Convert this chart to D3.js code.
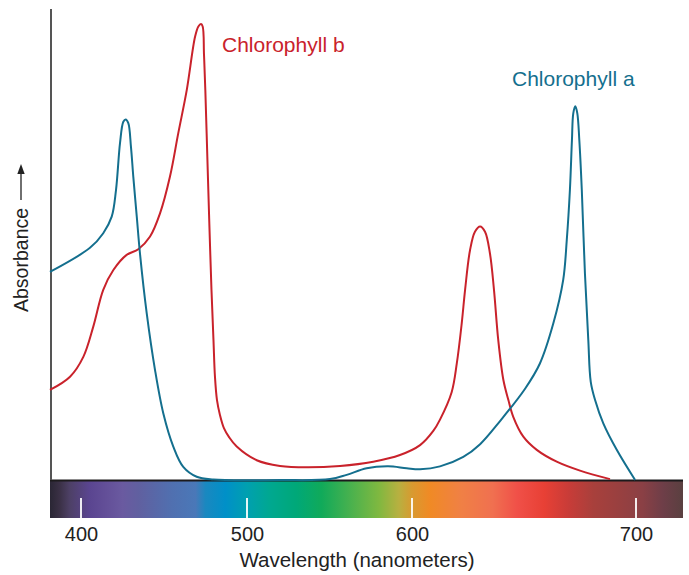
<!DOCTYPE html>
<html>
<head>
<meta charset="utf-8">
<script src="https://cdn.jsdelivr.net/npm/d3@7"></script>
<style>
  body { margin: 0; background: #fff; }
  svg { display: block; font-family: "Liberation Sans", Arial, sans-serif; }
</style>
</head>
<body>
<script>
// ---- data (wavelength in nm, absorbance in relative units 0-100) ----
var tickValues = [400, 500, 600, 700];

var chlA_nm = [381.3, 405.4, 413.4, 418.5, 421.1, 423.5, 425.5, 426.9, 428.5, 430.1, 431.5, 433.6, 435.5,
  439.6, 444.6, 449.6, 455.6, 461.6, 469.7, 479.7, 520, 550.3, 560.4, 572.5, 585.5, 596.8, 603.6, 612.5, 622.9,
  630.4, 639.3, 650.4, 657.1, 663.1, 667.5, 669.1, 670.5, 671.4, 672.0, 672.9, 673.8, 674.7, 675.8, 677.2, 678.7,
  679.8, 681.7, 685.4, 691.4, 699.6];
var chlA_abs = [44.3, 49.4, 52.5, 56.0, 61.7, 71.6, 76.1, 76.6, 75.8, 70.8, 64.5, 56.0, 48.3,
  35.5, 23.5, 14.3, 7.3, 3.0, 0.9, 0.3, 0.2, 0.4, 1.3, 2.7, 3.1, 2.7, 2.5, 3.1, 5.1,
  7.8, 12.7, 19.5, 24.9, 33.4, 42.6, 51.1, 61.7, 72.2, 77.9, 79.4, 77.9, 72.2, 61.7, 44.0, 29.9,
  21.0, 17.2, 12.2, 6.6, 0.2];

var chlB_nm = [381.3, 393.4, 401.4, 407.4, 413.4, 419.5, 427.5, 434.5, 441.6, 447.6, 453.6, 458.6, 463.7, 468.7,
  470.7, 472.3, 473.3, 474.1, 474.9, 476.1, 477.3, 478.6, 479.8, 480.7, 481.9, 483.7, 486.1, 489.2, 493.8,
  505.9, 520, 536.2, 556.4, 576.5, 592.7, 603.6, 609.5, 612.5, 617.7, 620.0, 622.2, 623.7, 625.9, 628.1, 630.4,
  632.6, 634.8, 636.6, 638.5, 640.8, 643.0, 645.2, 649.7, 655.7, 664.6, 675.0, 688.4];
var chlB_abs = [19.3, 22.1, 26.3, 32.7, 40.5, 44.7, 47.9, 49.1, 51.8, 56.7, 64.5, 73.7, 82.8, 94.1,
  96.3, 96.8, 96.3, 90.3, 82.8, 68.7, 54.6, 40.5, 29.9, 22.1, 17.2, 14.0, 11.2, 9.3, 7.3,
  4.4, 3.2, 2.9, 3.2, 4.1, 5.5, 7.6, 10.6, 13.0, 18.8, 24.9, 33.4, 40.5, 48.9, 52.8, 53.9,
  52.8, 48.2, 40.5, 29.9, 21.4, 17.2, 13.6, 9.4, 6.6, 4.1, 2.2, 0.4];

// spectrum colour stops (wavelength, colour)
var spectrumNm = [381.3, 387, 393, 405, 415, 425, 435, 445, 455, 469, 475, 487, 500, 514, 530, 545, 560, 580,
  592, 600, 608, 622, 636, 647, 659, 670, 681, 693, 703, 712, 721];
var spectrumCol = ["#2a2634", "#3a3045", "#4d4065", "#5a4590", "#634f98", "#6a5aa0", "#6060a0", "#5868a8",
  "#5070b0", "#4a78b8", "#1a88c0", "#0090c8", "#00a0b0", "#00a890", "#00a878", "#10aa5a", "#40b050",
  "#80b840", "#b8b040", "#d89a30", "#f08a25", "#f08045", "#f07050", "#f05048", "#e84035", "#c83c38",
  "#a8403c", "#984040", "#8a4045", "#6e3e48", "#5a4040"];

var labels = ["Chlorophyll a", "Chlorophyll b"];

// ---- layout ----
var W = 689, H = 575;
var BLUE = "#146f8e", RED = "#c9222b";

var svg = d3.select("body").append("svg").attr("width", W).attr("height", H);

// piecewise wavelength scale (the figure's spectrum is not evenly spaced)
var x = d3.scaleLinear().domain([400, 500, 600, 700]).range([81, 247, 412, 636]);
var y = d3.scaleLinear().domain([0, 100]).range([481, 9]);

var barTop = 480, barBottom = 518, barLeft = 50, barRight = 683;

// ---- spectrum bar ----
var grad = svg.append("defs").append("linearGradient")
  .attr("id", "spec").attr("gradientUnits", "userSpaceOnUse")
  .attr("x1", barLeft).attr("x2", barRight).attr("y1", 0).attr("y2", 0);
grad.selectAll("stop").data(spectrumNm).enter().append("stop")
  .attr("offset", function(d) { return Math.max(0, Math.min(1, (x(d) - barLeft) / (barRight - barLeft))); })
  .attr("stop-color", function(d, i) { return spectrumCol[i]; });

svg.append("rect").attr("x", barLeft).attr("y", barTop)
  .attr("width", barRight - barLeft).attr("height", barBottom - barTop)
  .attr("fill", "url(#spec)");
svg.append("line").attr("x1", barLeft).attr("x2", barRight)
  .attr("y1", barTop + 0.5).attr("y2", barTop + 0.5)
  .attr("stroke", "#1c1a1c").attr("stroke-width", 2);

// white ticks inside the bar
svg.selectAll(".tick-mark").data(tickValues).enter().append("line")
  .attr("class", "tick-mark")
  .attr("x1", function(d) { return x(d); }).attr("x2", function(d) { return x(d); })
  .attr("y1", 498).attr("y2", barBottom)
  .attr("stroke", "#fff").attr("stroke-width", 1.8);

// tick labels via d3 axis (line removed)
var ax = svg.append("g").attr("transform", "translate(0," + barBottom + ")")
  .call(d3.axisBottom(x).tickValues(tickValues).tickSize(0).tickPadding(9).tickFormat(d3.format("d")));
ax.select(".domain").remove();
ax.selectAll("text").attr("font-size", 20).attr("font-family", "Liberation Sans, Arial, sans-serif").attr("fill", "#222");

svg.append("text").attr("x", 357).attr("y", 567).attr("text-anchor", "middle")
  .attr("font-size", 20.5).attr("fill", "#222").text("Wavelength (nanometers)");

// ---- y axis line + label ----
svg.append("line").attr("x1", 51).attr("x2", 51).attr("y1", 9).attr("y2", barTop)
  .attr("stroke", "#555").attr("stroke-width", 2);

svg.append("text").attr("transform", "translate(28,312) rotate(-90)")
  .attr("font-size", 19.5).attr("fill", "#222").text("Absorbance");
svg.append("line").attr("x1", 21).attr("x2", 21).attr("y1", 200).attr("y2", 172)
  .attr("stroke", "#222").attr("stroke-width", 1.3);
svg.append("path").attr("d", "M21,164 L17.3,174 L24.7,174 Z").attr("fill", "#222");

// ---- curves ----
var line = d3.line()
  .x(function(d) { return x(d[0]); })
  .y(function(d) { return y(d[1]); })
  .curve(d3.curveCatmullRom.alpha(0.5));

var seriesA = d3.zip(chlA_nm, chlA_abs);
var seriesB = d3.zip(chlB_nm, chlB_abs);

svg.append("path").datum(seriesB).attr("d", line)
  .attr("fill", "none").attr("stroke", RED).attr("stroke-width", 2);
svg.append("path").datum(seriesA).attr("d", line)
  .attr("fill", "none").attr("stroke", BLUE).attr("stroke-width", 2);

// ---- labels ----
svg.append("text").attr("x", 512).attr("y", 86).attr("font-size", 21)
  .attr("fill", BLUE).text(labels[0]);
svg.append("text").attr("x", 222).attr("y", 52).attr("font-size", 21)
  .attr("fill", RED).text(labels[1]);
</script>
</body>
</html>
